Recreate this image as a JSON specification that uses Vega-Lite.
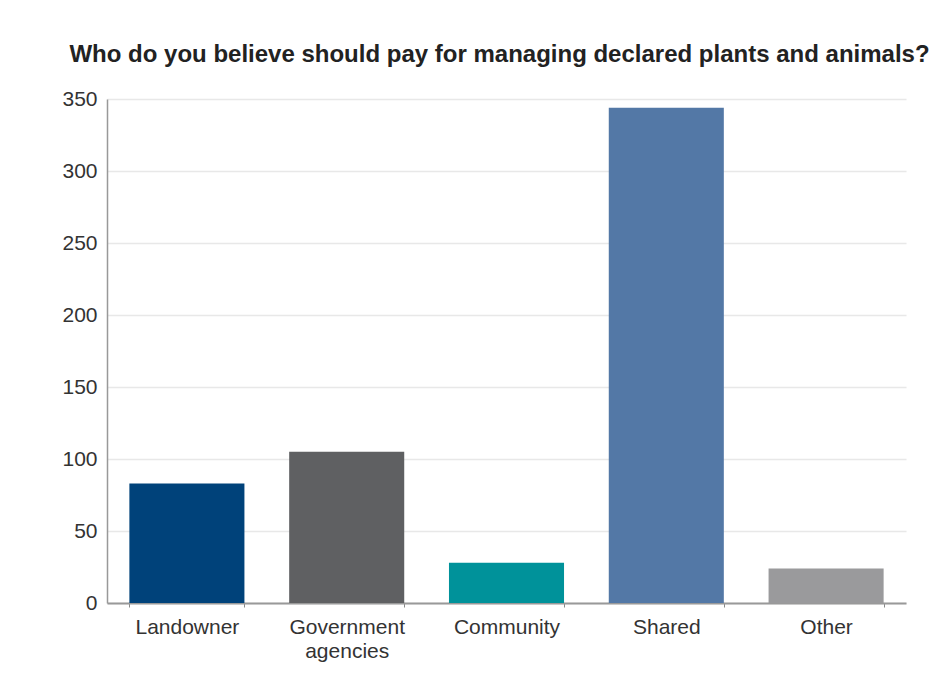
{
  "$schema": "https://vega.github.io/schema/vega-lite/v6.json",
  "autosize": {"type": "none"},
  "width": 799,
  "height": 504,
  "padding": {"left": 107, "top": 99, "right": 34, "bottom": 81},
  "background": "white",
  "title": {
    "text": "Who do you believe should pay for managing declared plants and animals?",
    "fontSize": 24,
    "font": "Liberation Sans",
    "fontWeight": "bold",
    "color": "#222222",
    "anchor": "middle",
    "offset": 21,
    "dx": -7
  },
  "data": {
    "values": [
      {"payer": "Landowner", "count": 83},
      {"payer": "Government agencies", "count": 105},
      {"payer": "Community", "count": 28},
      {"payer": "Shared", "count": 344},
      {"payer": "Other", "count": 24}
    ]
  },
  "mark": {"type": "bar"},
  "encoding": {
    "x": {
      "field": "payer",
      "type": "nominal",
      "sort": null,
      "title": null,
      "scale": {"paddingInner": 0.28, "paddingOuter": 0.14},
      "axis": {
        "labelAngle": 0,
        "labelFontSize": 21,
        "labelFont": "Liberation Sans",
        "labelColor": "#333333",
        "labelPadding": 9,
        "labelLineHeight": 24,
        "labelExpr": "datum.label == 'Government agencies' ? ['Government', 'agencies'] : datum.label",
        "domainColor": "#999999",
        "domainWidth": 2,
        "tickBand": "extent",
        "tickColor": "#888888",
        "tickSize": 4,
        "grid": false
      }
    },
    "y": {
      "field": "count",
      "type": "quantitative",
      "title": null,
      "scale": {"domain": [0, 350]},
      "axis": {
        "values": [0, 50, 100, 150, 200, 250, 300, 350],
        "labelFontSize": 21,
        "labelFont": "Liberation Sans",
        "labelColor": "#333333",
        "labelPadding": 10,
        "ticks": false,
        "domainColor": "#999999",
        "domainWidth": 1.5,
        "gridColor": "#E8E8E8",
        "gridWidth": 1.5
      }
    },
    "color": {
      "field": "payer",
      "type": "nominal",
      "legend": null,
      "scale": {
        "domain": ["Landowner", "Government agencies", "Community", "Shared", "Other"],
        "range": ["#00427A", "#5F6062", "#00929A", "#5378A6", "#9A9A9C"]
      }
    }
  },
  "config": {"view": {"stroke": null}}
}
